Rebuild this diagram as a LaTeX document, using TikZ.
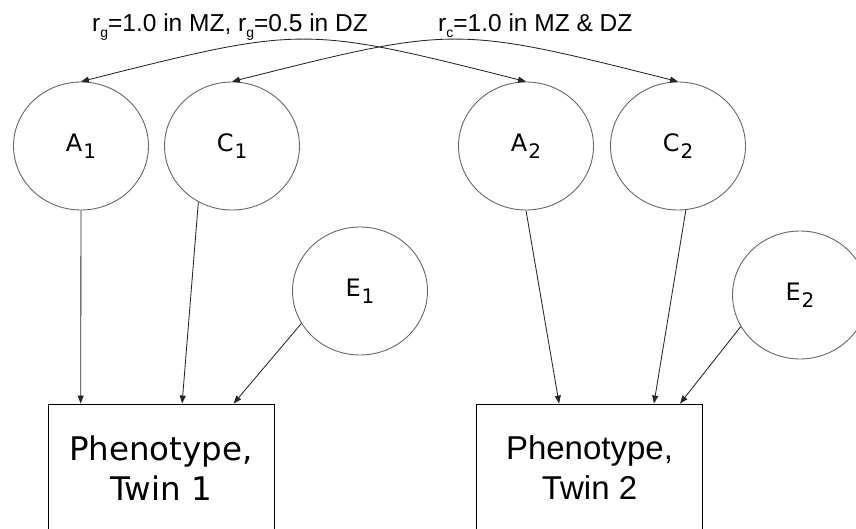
\documentclass[tikz,border=0pt]{standalone}
\usepackage{fontspec}
\setmainfont{DejaVu Sans}
\newfontfamily\arialf{Liberation Sans}
\usetikzlibrary{shapes.geometric,arrows.meta,calc}
\newcommand{\mysub}[3]{\raisebox{-#2pt}{\fontsize{#1}{#1}\selectfont #3}}
\begin{document}
\begin{tikzpicture}[x=1pt,y=-1pt,
  latent/.style={ellipse,draw=black!60,line width=0.9pt,minimum width=135pt,minimum height=128pt,inner sep=0pt,font=\fontsize{24}{24}\selectfont},
  pheno/.style={rectangle,draw=black,line width=0.9pt,minimum width=226pt,minimum height=128pt,inner sep=0pt,align=center,font=\fontsize{32.5}{40}\selectfont},
  pathar/.style={draw=black!85,line width=0.85pt,-{Triangle[length=8pt,width=6pt]}},
  corr/.style={draw=black!85,line width=0.85pt,{Triangle[length=8pt,width=6pt]}-{Triangle[length=8pt,width=6pt]}},
  lab/.style={font=\arialf\fontsize{24.5}{24.5}\selectfont,anchor=base west,inner sep=0pt}]
\useasboundingbox (0,0) rectangle (856,529);
\clip (0,0) rectangle (856,529);

\node[latent] (A1) at (81,146) {A\kern1pt\mysub{20}{7}{1}};
\node[latent] (C1) at (232,146) {C\kern1pt\mysub{20}{7}{1}};
\node[latent] (A2) at (526,146) {A\kern1pt\mysub{20}{7}{2}};
\node[latent] (C2) at (678,146) {C\kern1pt\mysub{20}{7}{2}};
\node[latent] (E1) at (360,291) {E\kern1pt\mysub{20}{7}{1}};
\node[latent] (E2) at (800,295) {E\kern1pt\mysub{20}{7}{2}};

\node[pheno] (P1) at (161,468) {Phenotype,\\Twin 1};
\node[pheno,font=\arialf\fontsize{33}{40}\selectfont] (P2) at (589.5,468) {Phenotype,\\Twin 2};

\node[lab] (L1) at (92,32) {r\mysub{14}{6}{g}=1.0 in MZ, r\mysub{14}{6}{g}=0.5 in DZ};
\node[lab] (L2) at (438,32) {r\mysub{14}{6}{c}=1.0 in MZ \& DZ};

\draw[corr] (A1.north) .. controls ($(A1.north)!0.5!(A2.north)+(0,-56)$) .. (A2.north);
\draw[corr] (C1.north) .. controls ($(C1.north)!0.5!(C2.north)+(0,-56)$) .. (C2.north);

\draw[pathar] (A1.south) -- ($(P1.north west)!0.146!(P1.north east)$);
\draw[pathar] (C1.239) -- ($(P1.north west)!0.593!(P1.north east)$);
\draw[pathar] (E1.209) -- ($(P1.north west)!0.82!(P1.north east)$);
\draw[pathar] (A2.south) -- ($(P2.north west)!0.366!(P2.north east)$);
\draw[pathar] (C2.277) -- ($(P2.north west)!0.784!(P2.north east)$);
\draw[pathar] (E2.208) -- ($(P2.north west)!0.899!(P2.north east)$);
\end{tikzpicture}
\end{document}
